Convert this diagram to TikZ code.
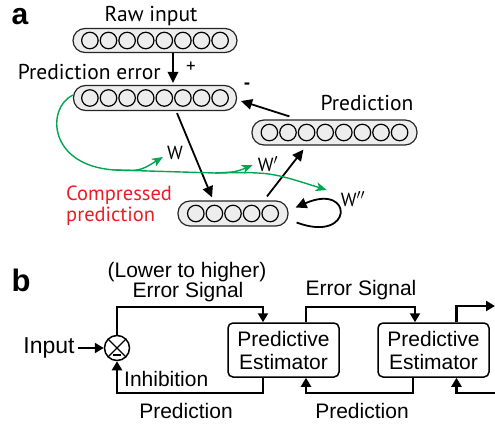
\documentclass[tikz,border=0pt]{standalone}
\usepackage{fontspec}
\newfontfamily\pa{PT Sans}
\newfontfamily\pb{Liberation Sans}
\usetikzlibrary{arrows.meta,calc}
\definecolor{grn}{RGB}{0,166,81}
\definecolor{rd}{RGB}{237,28,36}
\begin{document}
\begin{tikzpicture}[x=1pt,y=-1pt,
  bar/.style={draw=black!85,line width=1.2pt,fill=black!7,rounded corners=12pt,inner sep=0pt},
  unit/.style={draw=black,line width=1.2pt,fill=black!7,circle,minimum size=16.5pt,inner sep=0pt},
  ta/.style={font=\pa\fontsize{21.5}{23}\selectfont,inner sep=0pt},
  tas/.style={font=\pa\fontsize{19}{21}\selectfont,inner sep=0pt},
  tb/.style={font=\pb\fontsize{21}{23}\selectfont,inner sep=0pt},
  barr/.style={line width=1.8pt,-{Triangle[length=11pt,width=10.5pt]}},
  garr/.style={grn,line width=1.4pt,-{Stealth[length=11pt,width=9pt,inset=3pt]}},
  garrn/.style={grn,line width=1.4pt},
  box/.style={draw,line width=1.5pt,rounded corners=5pt,minimum width=111pt,minimum height=54pt,align=center,font=\pb\fontsize{21}{23}\selectfont,inner sep=0pt},
  barb/.style={line width=2.2pt,-{Triangle[length=9pt,width=10pt]}},
  lineb/.style={line width=2pt}]
\useasboundingbox (0,0) rectangle (495,423);
% ---------- panel a ----------
\node[font=\pb\bfseries\fontsize{30}{32}\selectfont,inner sep=0pt] (la) at (20,17) {a};
\node[ta] (traw) at (151,16) {Raw input};
\node[bar,minimum width=164pt,minimum height=24pt] (raw) at (155,40.5) {};
\foreach \i in {0,...,7} \node[unit] (r\i) at ($(raw.center)+(-65.1+\i*18.6,0)$) {};
\node[bar,minimum width=163pt,minimum height=25pt] (err) at (155,98) {};
\foreach \i in {0,...,7} \node[unit] (e\i) at ($(err.center)+(-65.1+\i*18.6,0)$) {};
\node[bar,minimum width=165pt,minimum height=25pt] (pred) at (334.5,132.5) {};
\foreach \i in {0,...,7} \node[unit] (p\i) at ($(pred.center)+(-65.1+\i*18.6,0)$) {};
\node[bar,minimum width=110pt,minimum height=25pt] (comp) at (233,213.5) {};
\foreach \i in {0,...,4} \node[unit] (c\i) at ($(comp.center)+(-37.2+\i*18.6,0)$) {};
\node[ta,anchor=east] (terr) at (161,72) {Prediction error};
\node[tas] (tplus) at (191,67) {+};
\node[tas,font=\pa\bfseries\fontsize{19}{21}\selectfont] (tminus) at (247,86) {-};
\node[ta] (tpred) at (367,103) {Prediction};
\node[tas] (tw) at (175,153) {W};
\node[tas] (tw1) at (268,164) {W$'$};
\node[tas] (tw2) at (353,199) {W$''$};
\node[tas,font=\pa\fontsize{20.5}{22}\selectfont,text=rd,anchor=west,align=left] (tcomp) at (66,206) {Compressed\\[-1pt]prediction};
% black arrows
\draw[barr] ($(raw.south)+(18,0)$) -- ($(err.north)+(18,-2)$);
\draw[barr] ($(pred.north west)+(38,-3)$) -- ($(err.east)+(4,3)$);
\draw[barr] ($(err.south)+(22,2)$) -- ($(comp.north)+(-21,-3)$);
\draw[barr] ($(comp.north)+(34,-4)$) -- ($(pred.south west)+(52,4)$);
\coordinate (l1) at ($(comp.east)+(8,9)$);
\coordinate (l2) at ($(comp.east)+(7,-6)$);
\draw[barr] (l1) .. controls (354,244) and (354,182) .. (l2);
% green curves
\coordinate (g0) at ($(err.west)+(0,-3)$);
\coordinate (gb) at (115,170);
\coordinate (gw) at ($(tw.west)+(-4,4)$);
\coordinate (gc) at (215,173);
\coordinate (gw1) at ($(tw1.west)+(-5,1)$);
\coordinate (gw2) at ($(tw2.west)+(-14,-9)$);
\draw[garrn] (g0) .. controls (46,108) and (48,166) .. (gb);
\draw[garr] (gb) .. controls (140,171) .. (gw);
\draw[garrn] (gb) -- (gc);
\draw[garr] (gc) .. controls (236,172) .. (gw1);
\draw[garr] (gc) .. controls (270,172) .. (gw2);
% ---------- panel b ----------
\node[font=\pb\bfseries\fontsize{31}{33}\selectfont,inner sep=0pt] (lb) at (21,280) {b};
\node[tb] (tlow) at (187,272) {(Lower to higher)};
\node[tb] (tes1) at (188,292) {Error Signal};
\node[tb] (tes2) at (361,290) {Error Signal};
\node[tb,font=\pb\fontsize{23}{25}\selectfont] (tin) at (49,348) {Input};
\node[tb,anchor=west] (tinh) at (124,379) {Inhibition};
\node[tb] (tp1) at (186,411) {Prediction};
\node[tb] (tp2) at (362,411) {Prediction};
\node[draw,line width=1.5pt,circle,minimum size=25pt,inner sep=0pt] (sum) at (117,348) {};
\draw[line width=1.2pt] (sum.north west) -- (sum.south east) (sum.north east) -- (sum.south west);
\draw[line width=2.6pt] ($(sum.center)+(-4,7)$) -- ($(sum.center)+(4,7)$);
\node[box] (b1) at (283.5,350) {Predictive\\Estimator};
\node[box] (b2) at (433.5,350) {Predictive\\Estimator};
\coordinate (rin) at (495,393);
\coordinate (rout) at (495,306);
\draw[barb] (tin.east) ++(3,0) -- (sum.west);
\draw[barb] (sum.north) |- (263,307) -- ($(b1.north)+(-20.5,0)$);
\draw[barb] ($(b1.north)+(22.5,0)$) |- (415,307) -- ($(b2.north)+(-18.5,0)$);
\draw[barb] ($(b2.north)+(23,0)$) |- (rout);
\draw[barb] ($(b1.south)+(-20.5,0)$) |- (117,393) -- (sum.south);
\draw[barb] ($(b2.south)+(-20.5,0)$) |- (306,393) -- ($(b1.south)+(22.5,0)$);
\draw[barb] (rin) -| ($(b2.south)+(23,0)$);
\end{tikzpicture}
\end{document}
